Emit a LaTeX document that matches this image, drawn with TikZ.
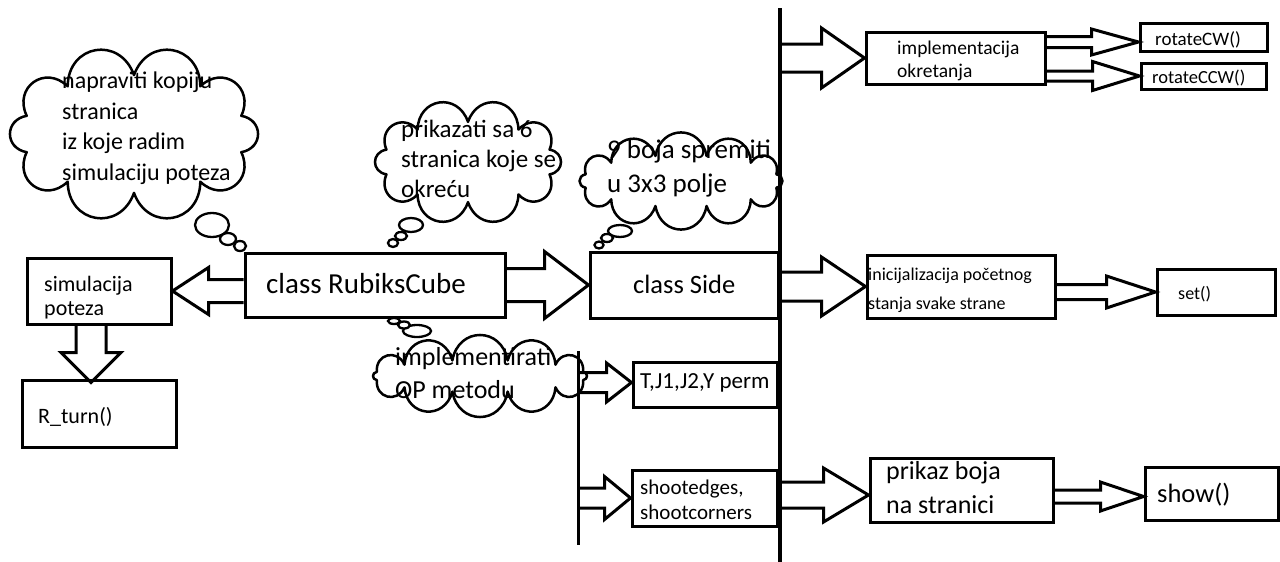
\documentclass[tikz,border=0pt]{standalone}
\usepackage{fontspec}
\setmainfont{Carlito}
\usetikzlibrary{calc,fit}
\tikzset{
  box/.style={draw, line width=3pt, inner sep=0pt},
  hol/.style={draw, line width=3pt, line join=miter},
  txt/.style={anchor=base west, inner sep=0pt, align=left},
  cldline/.style={draw, line width=2.5pt, line join=round},
  bub/.style={draw, line width=2.3pt, fill=white},
  vline/.style={line width=3.5pt},
}
% horizontal hollow arrow: #1 start, #2 tip, #3 shaft half, #4 head half, #5 head length (signed)
\newcommand\harrow[5]{%
  \path[hol] let \p1=(#1), \p2=(#2), \n1={#5} in
    ({\x1},{\y2+#3pt}) -- ({\x2-\n1*1pt},{\y2+#3pt}) -- ({\x2-\n1*1pt},{\y2+#4pt}) -- ({\x2},{\y2})
    -- ({\x2-\n1*1pt},{\y2-#4pt}) -- ({\x2-\n1*1pt},{\y2-#3pt}) -- ({\x1},{\y2-#3pt});}
% cloud outline: centre (#1,#2), ellipse radii #3,#4, number of puffs #5
\newcommand\cloudoutline[5]{%
  \path[cldline] ({#1+#3*cos(180/#5)},{#2+#4*sin(180/#5)})
    \foreach \i [evaluate=\i as \a using {180/#5+\i*360/#5}] in {1,...,#5} {
    to[bend left=80, looseness=1.6] ({#1+#3*cos(\a)},{#2+#4*sin(\a)}) } -- cycle;}
\begin{document}
\begin{tikzpicture}[x=1pt,y=-1pt]
\useasboundingbox (0,0) rectangle (1280,562);

% vertical lines
\coordinate (m1) at (780,8);
\coordinate (m2) at (780,562);
\draw[vline] (m1) -- (m2);
\coordinate (l1) at (578,351);
\coordinate (l2) at (578,545);
\draw[line width=3pt] (l1) -- (l2);

% boxes
\node[box, fit={(27,258) (171,324)}] (sim) {};
\node[box, fit={(22,380) (176,447)}] (rturn) {};
\node[box, fit={(245,253) (505,317)}] (rc) {};
\node[box, fit={(590,252) (778,318)}] (side) {};
\node[box, fit={(633,362) (777,407)}] (tj) {};
\node[box, fit={(632,470) (777,526)}] (shoot) {};
\node[box, fit={(866,32) (1045,84)}] (impl) {};
\node[box, fit={(1140,23) (1267,51)}] (cw) {};
\node[box, fit={(1141,63) (1266,89)}] (ccw) {};
\node[box, fit={(867,255) (1055,318)}] (init) {};
\node[box, fit={(1157,269) (1275,315)}] (set) {};
\node[box, fit={(870,458) (1053,522)}] (prikaz) {};
\node[box, fit={(1145,467) (1278,520)}] (show) {};

% box texts (anchor = baseline of last line)
\node[txt, font=\fontsize{22}{24}\selectfont] (simT) at (44,315) {simulacija\\poteza};
\node[txt, font=\fontsize{22}{24}\selectfont] (rturnT) at (38,423) {R\_turn()};
\node[txt, font=\fontsize{29}{33}\selectfont] (rcT) at (266,293) {class RubiksCube};
\node[txt, font=\fontsize{26.5}{30}\selectfont] (sideT) at (633,293) {class Side};
\node[txt, font=\fontsize{23}{26}\selectfont] (tjT) at (640,388) {T,J1,J2,Y perm};
\node[txt, font=\fontsize{21}{25}\selectfont] (shootT) at (640,519) {shootedges,\\shootcorners};
\node[txt, font=\fontsize{19.5}{23}\selectfont] (implT) at (897,77) {implementacija\\okretanja};
\node[txt, font=\fontsize{19}{22}\selectfont] (cwT) at (1155,45) {rotateCW()};
\node[txt, font=\fontsize{18.5}{22}\selectfont] (ccwT) at (1152,83) {rotateCCW()};
\node[txt, font=\fontsize{18}{29}\selectfont] (initT) at (868,309) {inicijalizacija početnog\\stanja svake strane};
\node[txt, font=\fontsize{18}{22}\selectfont] (setT) at (1178,299) {set()};
\node[txt, font=\fontsize{26}{34}\selectfont] (prikazT) at (886,513) {prikaz boja\\na stranici};
\node[txt, font=\fontsize{26.5}{30}\selectfont] (showT) at (1157,502) {show()};

% hollow arrows
\harrow{rc.west}{sim.east}{11.5}{23.5}{-36}
\harrow{rc.east}{side.west}{16.5}{33.5}{44}
\harrow{m1}{impl.west}{14}{30}{43}
\harrow{impl.east}{$(cw.west)+(0,5)$}{5.5}{13}{47}
\harrow{impl.east}{ccw.west}{5}{14.5}{47}
\harrow{m1}{init.west}{14.5}{29.5}{44}
\harrow{init.east}{set.west}{7.5}{16}{49}
\harrow{m1}{$(prikaz.west)+(0,5)$}{13}{27}{45}
\harrow{prikaz.east}{$(show.west)+(0,3)$}{6.5}{14.5}{43}
\harrow{l1}{$(tj.west)+(0,-2)$}{10}{19.5}{25}
\harrow{l1}{shoot.west}{10}{21.5}{26}
\path[hol] let \p1=(sim.south), \p2=($(rturn.north)+(-8,4)$) in
  ({\x2-15pt},{\y1}) -- ({\x2-15pt},{\y2+30pt}) -- ({\x2-30pt},{\y2+30pt}) -- ({\x2},{\y2})
  -- ({\x2+30pt},{\y2+30pt}) -- ({\x2+15pt},{\y2+30pt}) -- ({\x2+15pt},{\y1});

% clouds
\cloudoutline{134}{134}{112.8}{58.9}{10}
\draw[bub] (212,225) ellipse (17 and 12);
\draw[bub] (228,239) ellipse (8 and 6);
\draw[bub] (240,246) ellipse (6 and 5);
\node[txt, font=\fontsize{24}{30.5}\selectfont] (c1T) at (62,180) {napraviti kopiju\\stranica\\iz koje radim\\simulaciju poteza};

\cloudoutline{468}{162}{85.8}{40.1}{10}
\draw[bub] (411,225) ellipse (12 and 7);
\draw[bub] (401,236) ellipse (6 and 4);
\draw[bub] (393,243) ellipse (5 and 4);
\node[txt, font=\fontsize{25}{30}\selectfont] (c2T) at (401,197) {prikazati sa 6\\stranica koje se\\okreću};

\cloudoutline{681}{181}{98.7}{25.9}{12}
\draw[bub] (620,231) ellipse (12 and 6);
\draw[bub] (607,238) ellipse (6 and 4);
\draw[bub] (599,245) ellipse (4.5 and 3.5);
\node[txt, font=\fontsize{27}{34}\selectfont] (c3T) at (607,192) {9 boja spremiti\\u 3x3 polje};

\cloudoutline{480}{376}{106.8}{16.1}{12}
\draw[bub] (417,331) ellipse (14 and 6);
\draw[bub] (404,325) ellipse (6 and 3.5);
\draw[bub] (394,321) ellipse (6 and 3);
\node[txt, font=\fontsize{26}{33}\selectfont] (c4T) at (395,398) {implementirati\\OP metodu};
\end{tikzpicture}
\end{document}
